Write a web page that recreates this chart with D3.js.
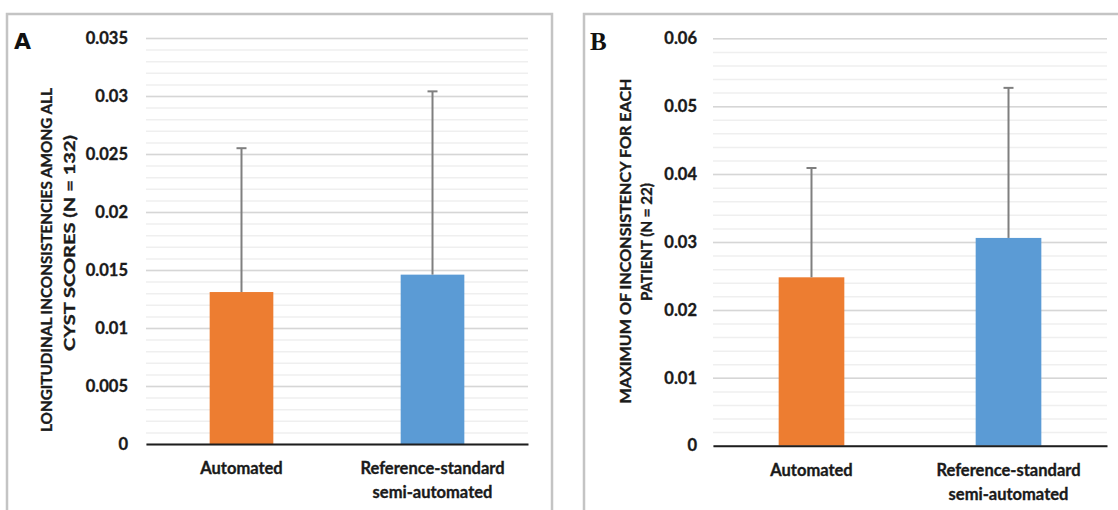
<!DOCTYPE html>
<html>
<head>
<meta charset="utf-8">
<script src="https://cdn.jsdelivr.net/npm/d3@7"></script>
<style>
  body { margin: 0; background: #fff; }
  svg { display: block; }
</style>
</head>
<body>
<div class="chart"></div>
<script>
// data
var categories = ["Automated", "Reference-standard semi-automated"];
var catLines = [["Automated"], ["Reference-standard", "semi-automated"]];

var meanA = [0.0131, 0.0146];
var errA = [0.0124, 0.0158];
var ticksA = [0, 0.005, 0.01, 0.015, 0.02, 0.025, 0.03, 0.035];

var meanB = [0.0248, 0.0306];
var errB = [0.0161, 0.0221];
var ticksB = [0, 0.01, 0.02, 0.03, 0.04, 0.05, 0.06];

var colors = ["#ED7D31", "#5B9BD5"];

var svg = d3.select(".chart").append("svg")
  .attr("width", 1118)
  .attr("height", 510);

function boldText(sel, size) {
  return sel
    .attr("font-family", "Lato, sans-serif")
    .attr("font-size", size)
    .attr("font-weight", "bold")
    .attr("fill", "#1a1a1a")
    .attr("stroke", "#1a1a1a")
    .attr("stroke-width", 0.35);
}

function drawPanel(opt) {
  // frame
  svg.append("rect")
    .attr("x", opt.frame[0]).attr("y", opt.frame[1])
    .attr("width", opt.frame[2]).attr("height", opt.frame[3])
    .attr("fill", "none")
    .attr("stroke", "#c4c4c4")
    .attr("stroke-width", 2.5);

  svg.append("text")
    .attr("x", opt.letterPos[0]).attr("y", opt.letterPos[1])
    .attr("font-family", opt.letterFont)
    .attr("font-size", opt.letterSize)
    .attr("font-weight", "bold")
    .attr("fill", "#111")
    .text(opt.letter);

  var x = d3.scaleBand()
    .domain(categories)
    .range([opt.left, opt.right])
    .paddingInner(0.6667).paddingOuter(0.3333);

  var y = d3.scaleLinear()
    .domain([0, opt.max])
    .range([opt.zero, opt.top]);

  var width = opt.right - opt.left;

  // minor grid
  var minor = d3.range(0, opt.max + opt.minorStep / 2, opt.minorStep);
  svg.append("g")
    .attr("transform", `translate(${opt.left},0)`)
    .call(d3.axisLeft(y).tickValues(minor).tickSize(-width).tickFormat(""))
    .call(g => g.select(".domain").remove())
    .call(g => g.selectAll("line").attr("stroke", "#efefef").attr("stroke-width", 1.5));

  // major grid
  svg.append("g")
    .attr("transform", `translate(${opt.left},0)`)
    .call(d3.axisLeft(y).tickValues(opt.ticks).tickSize(-width).tickFormat(""))
    .call(g => g.select(".domain").remove())
    .call(g => g.selectAll("line").attr("stroke", "#d6d6d6").attr("stroke-width", 1.5));

  // tick labels
  svg.append("g")
    .attr("transform", `translate(${opt.left},0)`)
    .call(d3.axisLeft(y).tickValues(opt.ticks).tickSize(0).tickPadding(opt.labelGap)
      .tickFormat(d => String(+d.toFixed(3))))
    .call(g => g.select(".domain").remove())
    .call(g => boldText(g.selectAll("text"), 16.5));

  // bars
  svg.append("g").selectAll("rect")
    .data(opt.means)
    .join("rect")
    .attr("x", (d, i) => x(categories[i]))
    .attr("y", d => y(d))
    .attr("width", x.bandwidth())
    .attr("height", d => y(0) - y(d))
    .attr("fill", (d, i) => colors[i]);

  // error bars (positive only)
  var eb = svg.append("g").attr("stroke", "#7f7f7f").attr("stroke-width", 2);
  opt.means.forEach(function(m, i) {
    var cx = x(categories[i]) + x.bandwidth() / 2;
    eb.append("line")
      .attr("x1", cx).attr("x2", cx)
      .attr("y1", y(m)).attr("y2", y(m + opt.errs[i]));
    eb.append("line")
      .attr("x1", cx - 5).attr("x2", cx + 5)
      .attr("y1", y(m + opt.errs[i])).attr("y2", y(m + opt.errs[i]));
  });

  // baseline
  svg.append("g")
    .attr("transform", `translate(0,${opt.zero})`)
    .call(d3.axisBottom(x).tickSize(0).tickFormat(""))
    .call(g => g.select(".domain").attr("stroke", "#1e1e1e").attr("stroke-width", 2));

  // category labels
  categories.forEach(function(c, i) {
    var t = boldText(svg.append("text"), 16.5)
      .attr("x", x(c) + x.bandwidth() / 2)
      .attr("y", opt.zero + 30)
      .attr("text-anchor", "middle");
    catLines[i].forEach(function(line, k) {
      t.append("tspan")
        .attr("x", x(c) + x.bandwidth() / 2)
        .attr("dy", k === 0 ? 0 : 24)
        .text(line);
    });
  });

  // y title, two rotated lines
  opt.title.forEach(function(tl) {
    boldText(svg.append("text"), 15.5)
      .attr("transform", `translate(${tl.x},${tl.cy}) rotate(-90)`)
      .attr("text-anchor", "middle")
      .attr("textLength", tl.len)
      .attr("lengthAdjust", "spacingAndGlyphs")
      .text(tl.text);
  });
}

drawPanel({
  frame: [7, 14, 545, 520],
  letter: "A", letterPos: [14, 49], letterFont: "'DejaVu Sans', sans-serif", letterSize: 22,
  left: 146, right: 528, zero: 444, top: 38,
  max: 0.035, minorStep: 0.001, ticks: ticksA, labelGap: 18,
  means: meanA, errs: errA,
  title: [
    { text: "LONGITUDINAL INCONSISTENCIES AMONG ALL", x: 52, cy: 260, len: 344 },
    { text: "CYST SCORES (N = 132)", x: 75, cy: 243, len: 216 }
  ]
});

drawPanel({
  frame: [584, 14, 560, 520],
  letter: "B", letterPos: [590, 50], letterFont: "'Liberation Serif', serif", letterSize: 25,
  left: 713, right: 1107, zero: 445.7, top: 38.3,
  max: 0.06, minorStep: 0.002, ticks: ticksB, labelGap: 16,
  means: meanB, errs: errB,
  title: [
    { text: "MAXIMUM OF INCONSISTENCY FOR EACH", x: 631, cy: 241, len: 325 },
    { text: "PATIENT (N = 22)", x: 652, cy: 242, len: 118 }
  ]
});
</script>
</body>
</html>
